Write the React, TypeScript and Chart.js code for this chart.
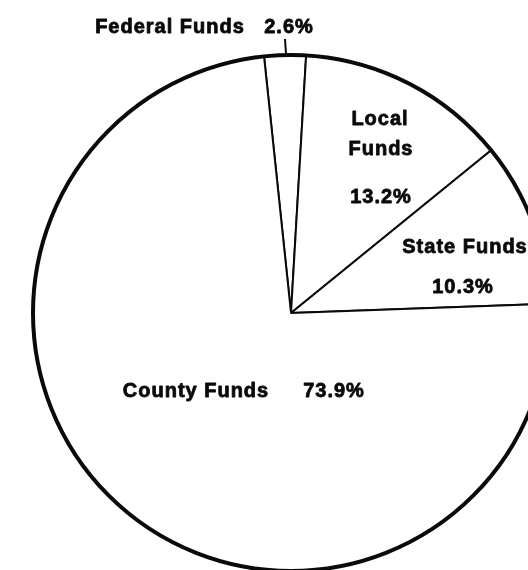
import React, { useEffect, useRef } from "react";
import { Chart, registerables } from "chart.js";

Chart.register(...registerables);

const categories = ["Federal Funds", "Local Funds", "State Funds", "County Funds"];
const shares = [2.6, 13.2, 10.3, 73.9];
const shareLabels = ["2.6%", "13.2%", "10.3%", "73.9%"];

// label placement relative to pie center, in pixels at a 258px radius
const labelLayout = [
  { text: "Federal Funds", dx: -121, dy: -280 },
  { text: shareLabels[0], dx: -2, dy: -280 },
  { text: "Local", dx: 89, dy: -188 },
  { text: "Funds", dx: 90, dy: -158 },
  { text: shareLabels[1], dx: 90, dy: -110 },
  { text: "State Funds", dx: 174, dy: -60 },
  { text: shareLabels[2], dx: 172, dy: -20 },
  { text: "County Funds", dx: -95, dy: 84 },
  { text: shareLabels[3], dx: 43, dy: 84 },
];

const labelPlugin = {
  id: "pieLabels",
  afterDatasetsDraw(chart: any) {
    const meta = chart.getDatasetMeta(0);
    const arc = meta.data[0];
    if (!arc) return;
    const { x, y, outerRadius } = arc.getProps(["x", "y", "outerRadius"], true);
    const k = outerRadius / 258;
    const ctx = chart.ctx;
    ctx.save();
    // heavy outer rim
    ctx.beginPath();
    ctx.arc(x, y, outerRadius, 0, Math.PI * 2);
    ctx.lineWidth = 4;
    ctx.strokeStyle = "#0a0a0a";
    ctx.stroke();
    // leader for the small federal slice
    ctx.beginPath();
    ctx.moveTo(x - 6 * k, y - 274 * k);
    ctx.lineTo(x - 5 * k, y - 259 * k);
    ctx.lineWidth = 2;
    ctx.stroke();
    ctx.fillStyle = "#0a0a0a";
    ctx.font = "bold 20px 'Liberation Sans', Arial, sans-serif";
    ctx.textAlign = "center";
    ctx.textBaseline = "alphabetic";
    ctx.lineWidth = 0.8;
    ctx.lineJoin = "round";
    try { (ctx as any).letterSpacing = "1px"; } catch (e) {}
    for (const l of labelLayout) {
      ctx.fillText(l.text, x + l.dx * k, y + l.dy * k);
      ctx.strokeText(l.text, x + l.dx * k, y + l.dy * k);
    }
    ctx.restore();
  },
};

export default function App() {
  const ref = useRef<HTMLCanvasElement>(null);
  useEffect(() => {
    if (!ref.current) return;
    const chart = new Chart(ref.current, {
      type: "pie",
      data: {
        labels: categories,
        datasets: [
          {
            data: shares,
            backgroundColor: "#ffffff",
            borderColor: "#0a0a0a",
            borderWidth: 2,
            borderAlign: "center",
          },
        ],
      },
      options: {
        responsive: false,
        animation: false,
        rotation: -6,
        layout: { padding: { left: 32, right: 32, top: 54, bottom: 54 } },
        plugins: {
          legend: { display: false },
          tooltip: { enabled: false },
        },
      },
      plugins: [labelPlugin],
    });
    return () => chart.destroy();
  }, []);
  return (
    <div
      style={{
        position: "fixed",
        left: 0,
        top: 0,
        width: 528,
        height: 570,
        overflow: "hidden",
        background: "#ffffff",
      }}
    >
      <canvas ref={ref} width={582} height={626} style={{ display: "block" }} />
    </div>
  );
}
